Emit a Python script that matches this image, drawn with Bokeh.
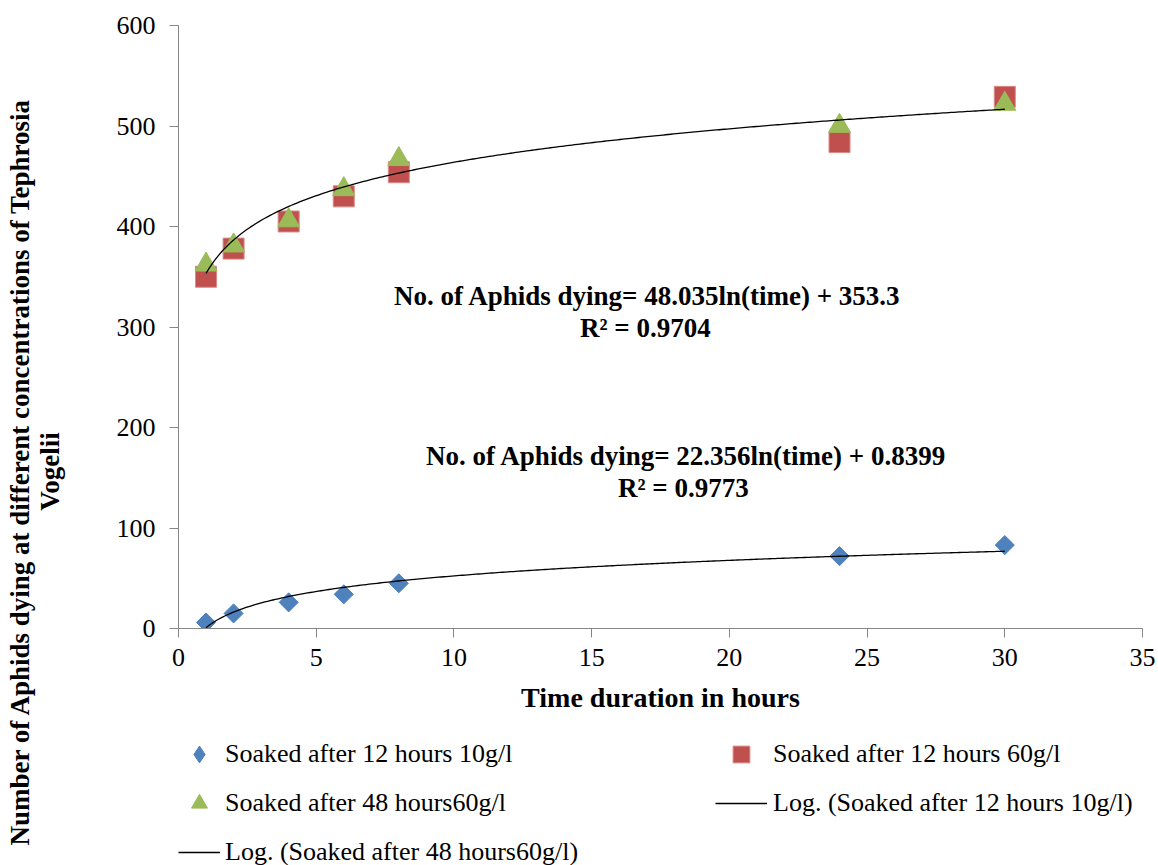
import numpy as np
from bokeh.plotting import figure
from bokeh.layouts import row, column
from bokeh.models import (ColumnDataSource, Range1d, FixedTicker, Label, Legend, LegendItem)
from bokeh.embed import file_html
from bokeh.resources import INLINE

# ---- data ----
time_hours = [1, 2, 4, 6, 8, 24, 30]
soaked_12h_10gl = [6, 15, 26, 34, 45, 72, 83]
soaked_12h_60gl = [350, 378, 405, 430, 454, 484, 529]
soaked_48h_60gl = [362, 381, 406, 437, 467, 500, 522]

# logarithmic trendline coefficients as printed on the chart
low_slope, low_intercept = 22.356, 0.8399
high_slope, high_intercept = 48.035, 353.3
low_r2 = "0.9773"
high_r2 = "0.9704"

x_ticks = [0, 5, 10, 15, 20, 25, 30, 35]
y_ticks = [0, 100, 200, 300, 400, 500, 600]

y_title_lines = ["Number of Aphids dying at different concentrations of Tephrosia", "Vogelii"]
x_title = "Time duration in hours"
legend_labels = ["Soaked after 12 hours 10g/l", "Soaked after 12 hours 60g/l",
                 "Soaked after 48 hours60g/l", "Log. (Soaked after 12 hours 10g/l)",
                 "Log. (Soaked after 48 hours60g/l)"]

FONT = "Liberation Serif"
BLUE = "#4F81BD"
RED = "#C0504D"
GREEN = "#9BBB59"
AXIS_GRAY = "#868686"

W, H = 1158, 865
LABEL_W = 70
MAIN_H = 730
FRAME_LEFT = 178

# ---- left strip holding the two-line rotated y title ----
lab = figure(width=LABEL_W, height=H, output_backend="svg", toolbar_location=None,
             x_range=Range1d(0, 1), y_range=Range1d(0, 1), min_border=0,
             x_axis_location=None, y_axis_location=None)
lab.outline_line_color = None
lab.grid.visible = False
for xs, txt in ((19, y_title_lines[0]), (49, y_title_lines[1])):
    lab.add_layout(Label(x=xs, y=H - 471, x_units="screen", y_units="screen", text=txt,
                         angle=np.pi / 2, text_font=FONT, text_font_style="bold",
                         text_font_size="27px", text_align="center", text_baseline="middle",
                         text_color="black"))

# ---- main chart ----
p = figure(width=W - LABEL_W, height=MAIN_H, output_backend="svg", toolbar_location=None,
           x_range=Range1d(0, 35), y_range=Range1d(0, 600),
           min_border_left=FRAME_LEFT - LABEL_W, min_border_right=16, min_border_top=25,
           min_border_bottom=MAIN_H - 628)
p.outline_line_color = None
p.grid.visible = False

for ax in (p.xaxis[0], p.yaxis[0]):
    ax.axis_line_color = AXIS_GRAY
    ax.major_tick_line_color = AXIS_GRAY
    ax.minor_tick_line_color = None
    ax.major_tick_in = 0
    ax.major_tick_out = 9
    ax.major_label_text_font = FONT
    ax.major_label_text_font_size = "26px"
    ax.major_label_text_color = "black"
p.xaxis[0].major_label_standoff = 11
p.yaxis[0].major_label_standoff = 14

p.xaxis[0].ticker = FixedTicker(ticks=x_ticks)
p.yaxis[0].ticker = FixedTicker(ticks=y_ticks)
p.xaxis[0].axis_label = x_title
p.xaxis[0].axis_label_text_font = FONT
p.xaxis[0].axis_label_text_font_style = "bold"
p.xaxis[0].axis_label_text_font_size = "28px"
p.xaxis[0].axis_label_text_color = "black"
p.xaxis[0].axis_label_standoff = 13

# trend lines from the printed equations
t_grid = np.linspace(min(time_hours), max(time_hours), 300)
low_src = ColumnDataSource(dict(x=t_grid, y=low_slope * np.log(t_grid) + low_intercept))
high_src = ColumnDataSource(dict(x=t_grid, y=high_slope * np.log(t_grid) + high_intercept))

src = ColumnDataSource(dict(t=time_hours, a=soaked_12h_10gl, b=soaked_12h_60gl, c=soaked_48h_60gl))

blue_style = dict(marker="square", angle=np.pi / 4, fill_color=BLUE, line_color=BLUE, size=13.5)
red_style = dict(marker="square", fill_color=RED, line_color="#D98A88", line_width=1, size=21)
green_style = dict(marker="triangle", fill_color=GREEN, line_color=GREEN, size=22)
line_style = dict(line_color="black", line_width=1.3)

p.scatter("t", "a", source=src, **blue_style)
p.scatter("t", "b", source=src, **red_style)
p.scatter("t", "c", source=src, **green_style)
p.line("x", "y", source=low_src, **line_style)
p.line("x", "y", source=high_src, **line_style)

# equations
def eq_label(x, y, text):
    p.add_layout(Label(x=x, y=y, text=text, text_font=FONT, text_font_style="bold",
                       text_font_size="27px", text_align="center", text_baseline="middle",
                       text_color="black"))

eq_label(17.03, 331, "No. of Aphids dying= %sln(time) + %s" % (high_slope, high_intercept))
eq_label(16.95, 299, "R² = %s" % high_r2)
eq_label(18.44, 172, "No. of Aphids dying= %sln(time) + %s" % (low_slope, low_intercept))
eq_label(18.33, 140, "R² = %s" % low_r2)

# ---- legend strip below the chart (Excel two-column legend) ----
# its frame is aligned with the chart frame; the series are re-bound here only so the
# legend can draw their swatches (the view range keeps the marks themselves off-frame)
LEG_H = H - MAIN_H
legf = figure(width=W - LABEL_W, height=LEG_H, output_backend="svg", toolbar_location=None,
              x_range=Range1d(-2, -1), y_range=Range1d(-2, -1), min_border=0,
              x_axis_location=None, y_axis_location=None)
legf.outline_line_color = None
legf.grid.visible = False

legend_blue = dict(blue_style, marker="diamond", angle=0)
lr_blue = legf.scatter("t", "a", source=src, **legend_blue)
lr_red = legf.scatter("t", "b", source=src, **red_style)
lr_green = legf.scatter("t", "c", source=src, **green_style)
lr_low = legf.line("x", "y", source=low_src, **line_style)
lr_high = legf.line("x", "y", source=high_src, **line_style)

ROW_Y = [754, 803, 852]          # row centres (canvas px)
COLS = [(178, 42, 5), (715, 52, 6)]   # glyph box left (canvas px), glyph width, standoff
entries = [(legend_labels[0], lr_blue, 0, 0, 42), (legend_labels[1], lr_red, 1, 0, 42),
           (legend_labels[2], lr_green, 0, 1, 40), (legend_labels[3], lr_low, 1, 1, 34),
           (legend_labels[4], lr_high, 0, 2, 34)]
for lbl, rend, c, r, gh in entries:
    left, gw, so = COLS[c]
    leg = Legend(items=[LegendItem(label=lbl, renderers=[rend])],
                 location=(left - FRAME_LEFT, H - ROW_Y[r] - gh // 2),
                 glyph_width=gw, glyph_height=gh, label_height=gh,
                 label_standoff=so, spacing=0,
                 label_text_font=FONT, label_text_font_size="26px", label_text_color="black",
                 padding=0, margin=0, border_line_color=None, background_fill_alpha=0)
    legf.add_layout(leg)

layout = row(lab, column(p, legf))
open("out.html", "w").write(file_html(layout, INLINE))
